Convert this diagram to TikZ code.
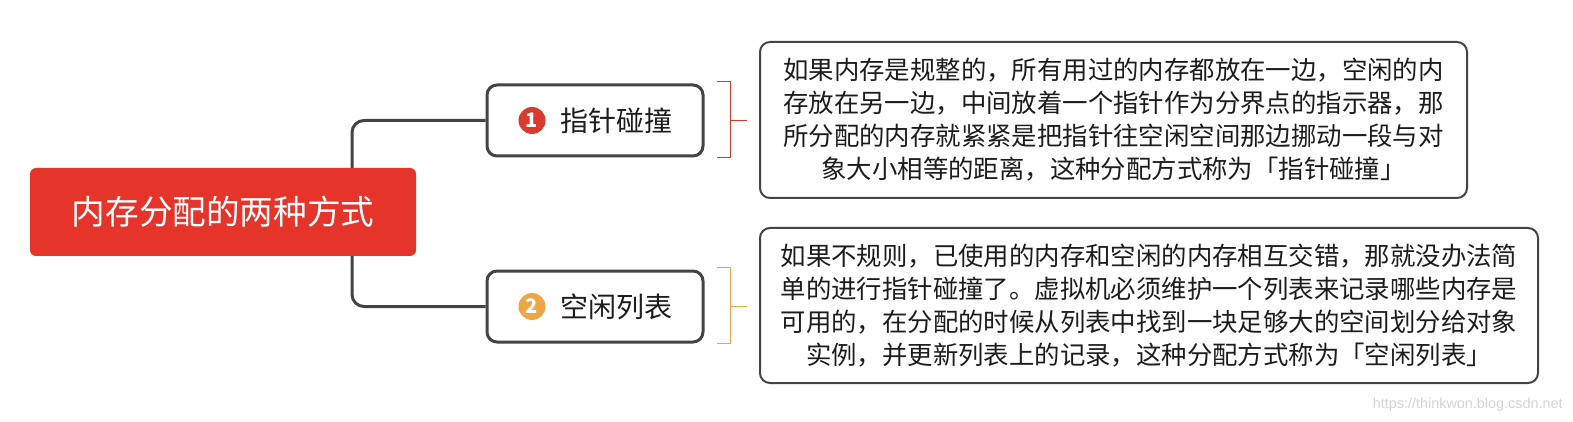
\documentclass[tikz,border=0pt]{standalone}
\usepackage{fontspec}
\setmainfont{Noto Sans CJK SC}
\newfontfamily\wmfont{Liberation Sans}
\usetikzlibrary{positioning,backgrounds}
\definecolor{rootred}{HTML}{E5352B}
\definecolor{linegray}{HTML}{444444}
\definecolor{numred}{HTML}{D83A2F}
\definecolor{numorange}{HTML}{EAA744}
\definecolor{txtdark}{HTML}{1C1C1C}

\begin{document}
\begin{tikzpicture}[x=0.5pt,y=-0.5pt,
    rootbox/.style={fill=rootred,rounded corners=3pt,text=white,minimum width=193pt,
      minimum height=44pt,font=\fontsize{16.8}{20}\selectfont},
    topicbox/.style={draw=linegray,line width=1.5pt,rounded corners=5pt,fill=white,
      minimum width=108pt,minimum height=35.5pt},
    topictext/.style={inner sep=0pt,text=txtdark,font=\fontsize{14}{17}\selectfont},
    numdot/.style={circle,fill=#1,text=white,inner sep=0pt,minimum size=13.5pt,
      font=\fontsize{10}{10}\selectfont\bfseries},
    descbox/.style={draw=linegray,line width=1pt,rounded corners=5pt,align=center,
      text=txtdark,font=\fontsize{12.7}{16.5}\selectfont},
    brace/.style={draw=#1,line width=0.6pt},
    conn/.style={draw=linegray,line width=1.5pt,rounded corners=6pt}]
  \useasboundingbox (0,0) rectangle (1573,422);
  \node[rootbox] (root) at (223,212) {内存分配的两种方式};
  \coordinate (fork) at (352,212);
  \node[topicbox] (t1) at (595,120.5) {};
  \node[numdot=numred] (n1) at (532,120.5) {1};
  \node[topictext,right=7pt of n1] (l1) {指针碰撞};
  \node[topicbox] (t2) at (595,306.5) {};
  \node[numdot=numorange] (n2) at (532,306.5) {2};
  \node[topictext,right=7pt of n2] (l2) {空闲列表};
  \node[descbox,minimum width=353.5pt,minimum height=78pt] (d1) at (1113.5,120) {%
    如果内存是规整的，所有用过的内存都放在一边，空闲的内\\
    存放在另一边，中间放着一个指针作为分界点的指示器，那\\
    所分配的内存就紧紧是把指针往空闲空间那边挪动一段与对\\
    象大小相等的距离，这种分配方式称为「指针碰撞」};
  \node[descbox,minimum width=389pt,minimum height=77.5pt] (d2) at (1149,305.5) {%
    如果不规则，已使用的内存和空闲的内存相互交错，那就没办法简\\
    单的进行指针碰撞了。虚拟机必须维护一个列表来记录哪些内存是\\
    可用的，在分配的时候从列表中找到一块足够大的空间划分给对象\\
    实例，并更新列表上的记录，这种分配方式称为「空闲列表」};
  \begin{scope}[on background layer]
    \draw[conn] (t1.west) -| (fork) |- (t2.west);
  \end{scope}
  \foreach \t/\c in {t1/numred,t2/numorange} {
    \draw[brace=\c] ([xshift=6pt,yshift=1pt]\t.north east) -| ([xshift=13pt]\t.south east)
      -- ([xshift=6pt]\t.south east);
    \draw[brace=\c] ([xshift=13pt]\t.east) -- ++(16,0);
  }
  \node[anchor=east,inner sep=0pt,text=gray!35,font=\wmfont\fontsize{7.2}{8}\selectfont]
    (wm) at (1563,405) {https://thinkwon.blog.csdn.net};
\end{tikzpicture}
\end{document}
